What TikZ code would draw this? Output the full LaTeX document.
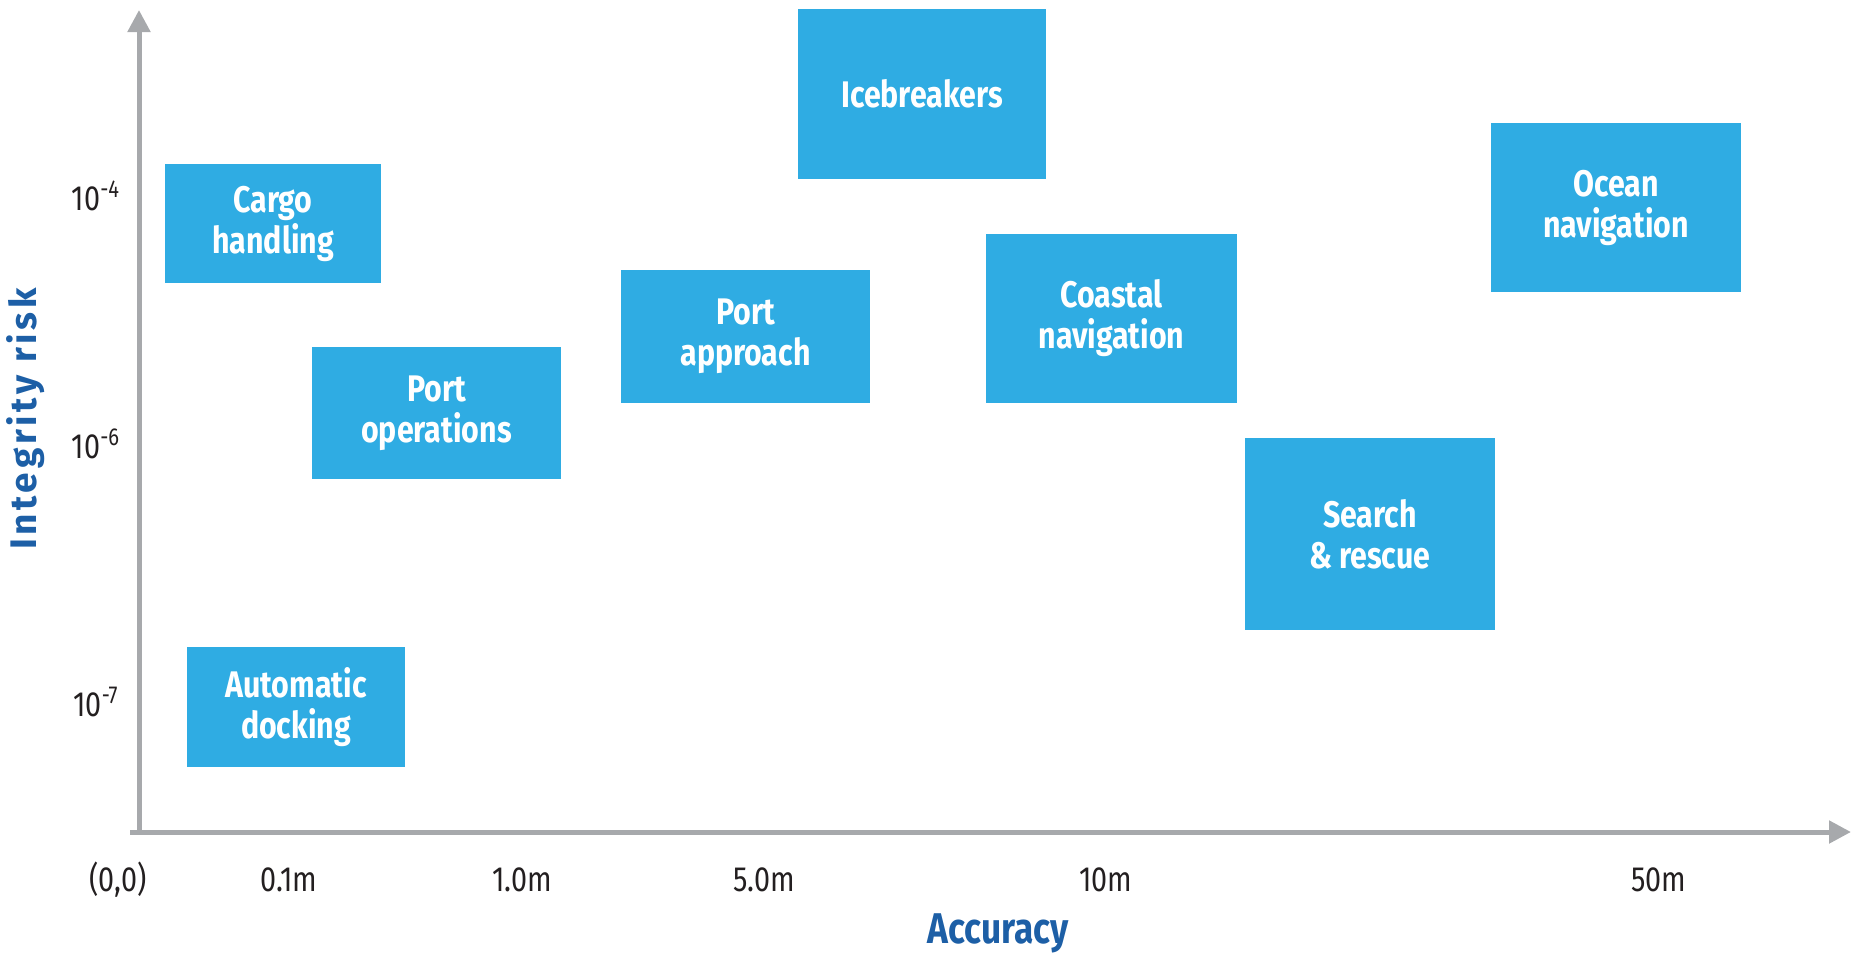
\documentclass[tikz,border=0pt]{standalone}
\usepackage{fontspec}
\setmainfont{Fira Sans}
\newfontfamily\condfont[FakeStretch=0.82]{Fira Sans}
\newfontfamily\spacedfont[LetterSpace=10]{Fira Sans}
\usetikzlibrary{arrows.meta}
\definecolor{boxblue}{HTML}{2FACE3}
\definecolor{axisgray}{HTML}{A7A9AC}
\definecolor{labelblue}{HTML}{1D5FA6}
\definecolor{ticktext}{HTML}{231F20}
\begin{document}
\begin{tikzpicture}[x=0.5pt,y=-0.5pt,
  appbox/.style={fill=boxblue, draw=none, text=white,
    font=\condfont\bfseries\fontsize{18.5}{20.5}\selectfont,
    align=center, inner sep=0pt, anchor=center},
  ticklabel/.style={text=ticktext, font=\condfont\fontsize{17.5}{19}\selectfont, inner sep=0pt},
  axisline/.style={draw=axisgray, line width=2.5pt, -{Triangle[length=11pt,width=11pt]}},
  axistitle/.style={text=labelblue, font=\condfont\bfseries\fontsize{21.5}{23}\selectfont, inner sep=0pt},
  yaxistitle/.style={text=labelblue, font=\spacedfont\bfseries\fontsize{18.5}{20}\selectfont, inner sep=0pt}]
\useasboundingbox (0,0) rectangle (1851,953);
% axes
\coordinate (origin) at (139,832);
\coordinate (xstart) at (130,832);
\coordinate (ytop) at (139,10);
\coordinate (xend) at (1851,832);
\draw[axisline] (origin) -- (ytop);
\draw[axisline] (xstart) -- (xend);
% boxes
\node[appbox, minimum width=108pt, minimum height=59.5pt] (cargo) at (273,223.5) {Cargo\\handling};
\node[appbox, minimum width=124.5pt, minimum height=66pt] (portops) at (436.5,413) {Port\\operations};
\node[appbox, minimum width=109pt, minimum height=60pt] (docking) at (296,707) {Automatic\\docking};
\node[appbox, minimum width=124.5pt, minimum height=66.5pt] (portapp) at (745.5,336.5) {Port\\approach};
\node[appbox, minimum width=124pt, minimum height=85pt] (ice) at (922,94) {Icebreakers};
\node[appbox, minimum width=125.5pt, minimum height=84.5pt] (coastal) at (1111.5,318.5) {Coastal\\navigation};
\node[appbox, minimum width=125pt, minimum height=84.5pt] (ocean) at (1616,207.5) {Ocean\\navigation};
\node[appbox, minimum width=125pt, minimum height=96pt] (sar) at (1370,534) {Search\\\&\,rescue};
% y ticks
\node[ticklabel] (y4) at (96,196) {10\textsuperscript{-4}};
\node[ticklabel] (y6) at (96,444) {10\textsuperscript{-6}};
\node[ticklabel] (y7) at (96,702) {10\textsuperscript{-7}};
% x ticks
\node[ticklabel] (x0) at (118,880) {(0,0)};
\node[ticklabel] (x1) at (289,880) {0.1m};
\node[ticklabel] (x2) at (522,880) {1.0m};
\node[ticklabel] (x3) at (764,880) {5.0m};
\node[ticklabel] (x4) at (1106,880) {10m};
\node[ticklabel] (x5) at (1659,880) {50m};
% axis titles
\node[axistitle] (xtitle) at (998,933) {Accuracy};
\node[yaxistitle, rotate=90] (ytitle) at (26,419) {Integrity risk};
\end{tikzpicture}
\end{document}
